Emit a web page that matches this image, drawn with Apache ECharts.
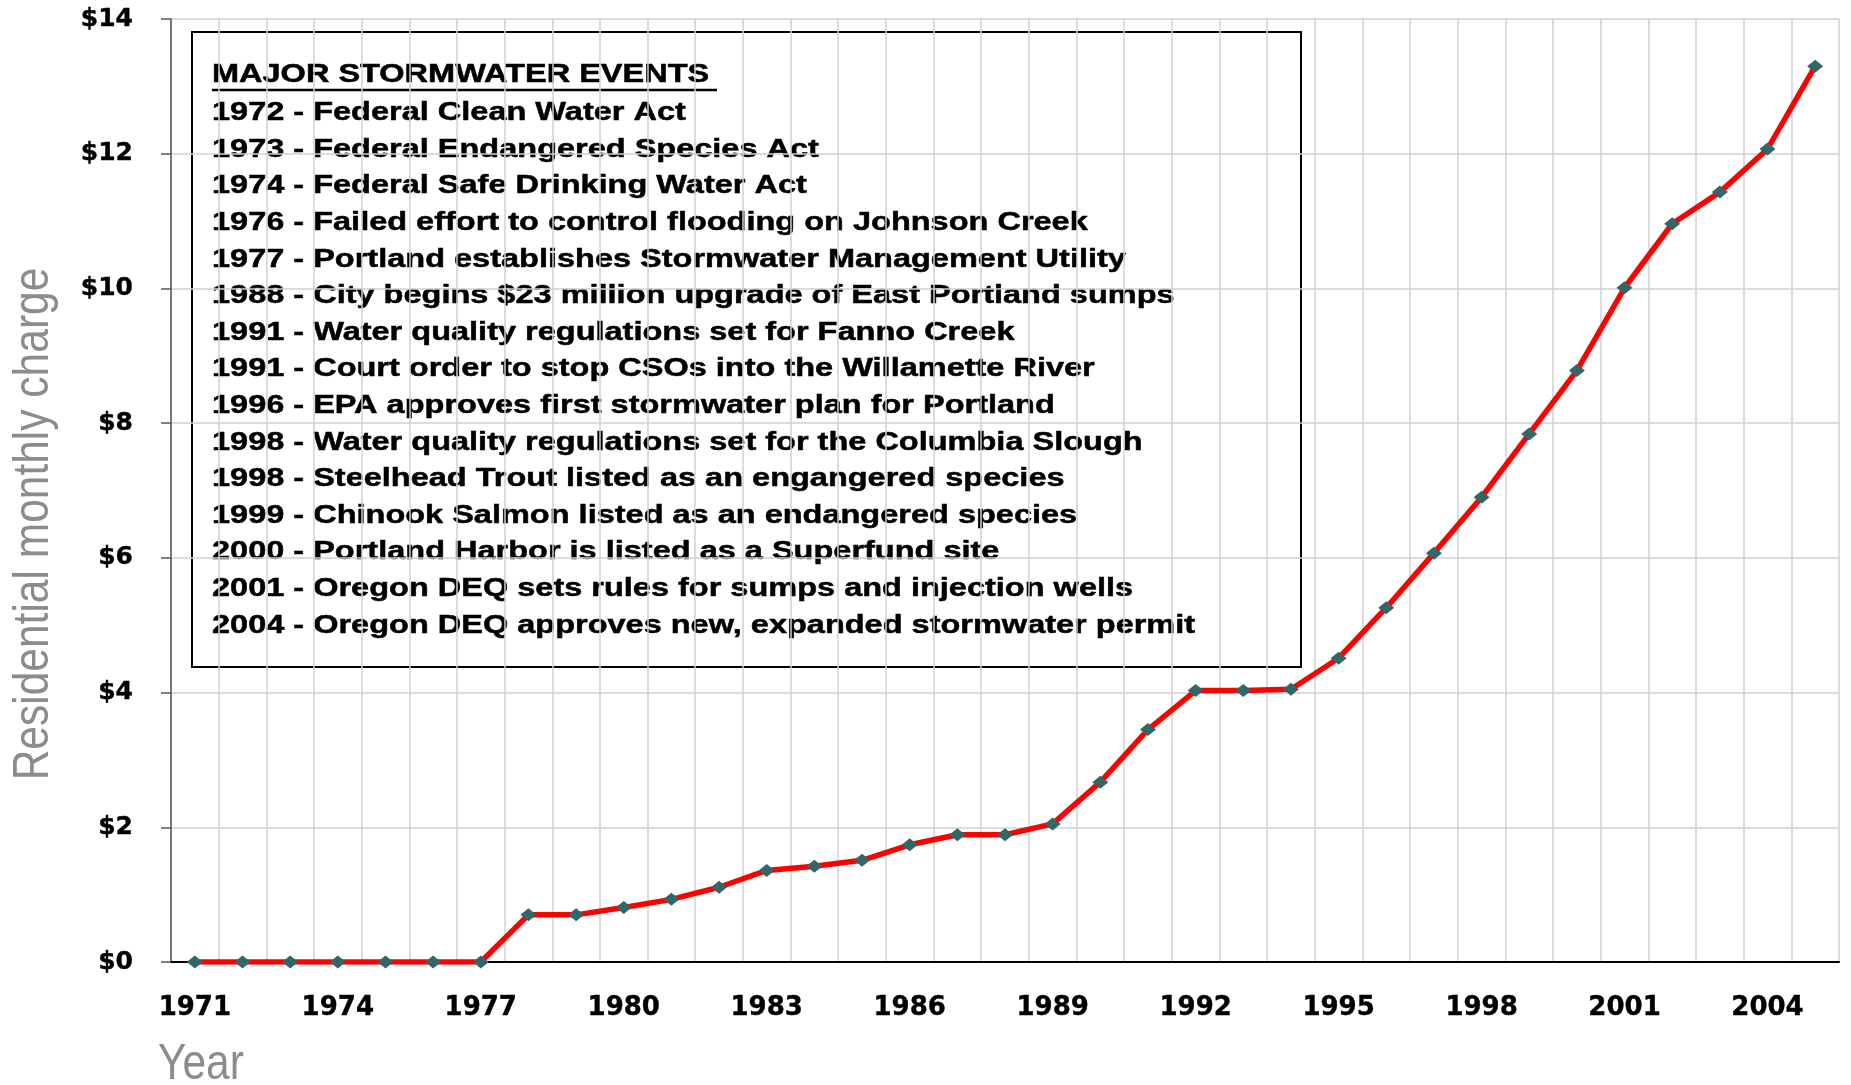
<!DOCTYPE html>
<html>
<head>
    <meta charset="UTF-8">
    <title>Stormwater charge</title>
    <script src="https://cdn.jsdelivr.net/npm/echarts@6/dist/echarts.min.js"></script>
    <style>
        html, body { margin: 0; padding: 0; background: #fff; }
        #main { width: 1851px; height: 1085px; }
    </style>
</head>
<body>
    <div id="main"></div>

    <script>
        // years on the x axis
        var years = ['1971', '1972', '1973', '1974', '1975', '1976', '1977', '1978', '1979', '1980',
            '1981', '1982', '1983', '1984', '1985', '1986', '1987', '1988', '1989', '1990',
            '1991', '1992', '1993', '1994', '1995', '1996', '1997', '1998', '1999', '2000',
            '2001', '2002', '2003', '2004', '2005'];

        // residential monthly charge, dollars
        var charges = [0, 0, 0, 0, 0, 0, 0, 0.70, 0.70, 0.81,
            0.93, 1.11, 1.36, 1.42, 1.51, 1.74, 1.89, 1.89, 2.05, 2.67,
            3.45, 4.03, 4.03, 4.05, 4.51, 5.26, 6.07, 6.90, 7.84, 8.78,
            10.01, 10.96, 11.43, 12.07, 13.30];

        var xTitle = 'Year';
        var yTitle = 'Residential monthly charge';

        var boxTitle = 'MAJOR STORMWATER EVENTS';
        var events = [
            '1972 - Federal Clean Water Act',
            '1973 - Federal Endangered Species Act',
            '1974 - Federal Safe Drinking Water Act',
            '1976 - Failed effort to control flooding on Johnson Creek',
            '1977 - Portland establishes Stormwater Management Utility',
            '1988 - City begins $23 million upgrade of East Portland sumps',
            '1991 - Water quality regulations set for Fanno Creek',
            '1991 - Court order to stop CSOs into the Willamette River',
            '1996 - EPA approves first stormwater plan for Portland',
            '1998 - Water quality regulations set for the Columbia Slough',
            '1998 - Steelhead Trout listed as an engangered species',
            '1999 - Chinook Salmon listed as an endangered species',
            '2000 - Portland Harbor is listed as a Superfund site',
            '2001 - Oregon DEQ sets rules for sumps and injection wells',
            '2004 - Oregon DEQ approves new, expanded stormwater permit'
        ];

        var myChart = echarts.init(document.getElementById('main'));

        // events box, drawn over the grid
        var boxFont = 'bold 26px "Liberation Sans", Arial, sans-serif';
        var boxItems = [{
            type: 'rect',
            shape: { x: 192, y: 32, width: 1109, height: 635 },
            style: { fill: '#fff', stroke: '#000', lineWidth: 2 }
        }, {
            type: 'text',
            x: 212, y: 75, scaleX: 1.25,
            style: { text: boxTitle, font: boxFont, fill: '#000', stroke: '#000', lineWidth: 0.5, verticalAlign: 'middle' }
        }, {
            type: 'line',
            shape: { x1: 212, y1: 90, x2: 717, y2: 90 },
            style: { stroke: '#000', lineWidth: 2.5 }
        }];
        events.forEach(function (t, i) {
            boxItems.push({
                type: 'text',
                x: 212, y: 113 + i * 36.6, scaleX: 1.25,
                style: { text: t, font: boxFont, fill: '#000', stroke: '#000', lineWidth: 0.5, verticalAlign: 'middle' }
            });
        });

        // axis titles, in a narrowed sans face
        var titleFont = '50px "Liberation Sans", Arial, sans-serif';
        var titleItems = [{
            type: 'text',
            x: 158, y: 1065, scaleX: 0.85,
            style: { text: xTitle, font: titleFont, fill: '#8c8c8c', verticalAlign: 'middle' }
        }, {
            type: 'text',
            x: 34, y: 524, rotation: Math.PI / 2, scaleX: 0.85,
            style: { text: yTitle, font: titleFont, fill: '#8c8c8c', align: 'center', verticalAlign: 'middle' }
        }];

        var option = {
            backgroundColor: '#fff',
            animation: false,
            grid: {
                left: 171,
                right: 12,
                top: 19,
                bottom: 123
            },
            xAxis: {
                type: 'category',
                data: years,
                boundaryGap: true,
                axisLine: { lineStyle: { color: '#000', width: 2 } },
                axisTick: { interval: 0, length: 8, lineStyle: { color: '#333', width: 1.5 } },
                axisLabel: {
                    interval: 2,
                    margin: 33,
                    fontFamily: '"DejaVu Sans", sans-serif',
                    fontWeight: 'bold',
                    fontSize: 26,
                    color: '#000',
                    textBorderColor: '#000',
                    textBorderWidth: 0.4
                },
                splitLine: { show: true, interval: 0, lineStyle: { color: '#d0d0d0', width: 1.5 } }
            },
            yAxis: {
                type: 'value',
                min: 0,
                max: 14,
                interval: 2,
                axisLine: { show: true, lineStyle: { color: '#555', width: 1.5 } },
                axisTick: { show: true, length: 10, lineStyle: { color: '#555', width: 1.5 } },
                axisLabel: {
                    margin: 38,
                    fontFamily: '"DejaVu Sans", sans-serif',
                    fontWeight: 'bold',
                    fontSize: 25,
                    color: '#000',
                    textBorderColor: '#000',
                    textBorderWidth: 0.4,
                    formatter: function (v) { return '$' + v; }
                },
                splitLine: { show: true, lineStyle: { color: '#d0d0d0', width: 1.5 } }
            },
            series: [{
                type: 'line',
                data: charges,
                symbol: 'diamond',
                symbolSize: [16, 13],
                lineStyle: { color: '#ff0000', width: 5.5 },
                itemStyle: { color: '#336666' },
                z: 3
            }],
            graphic: {
                elements: [{
                    type: 'group',
                    z: 100,
                    children: boxItems
                }, {
                    type: 'group',
                    z: 100,
                    children: titleItems
                }]
            }
        };

        myChart.setOption(option);
    </script>
</body>
</html>
